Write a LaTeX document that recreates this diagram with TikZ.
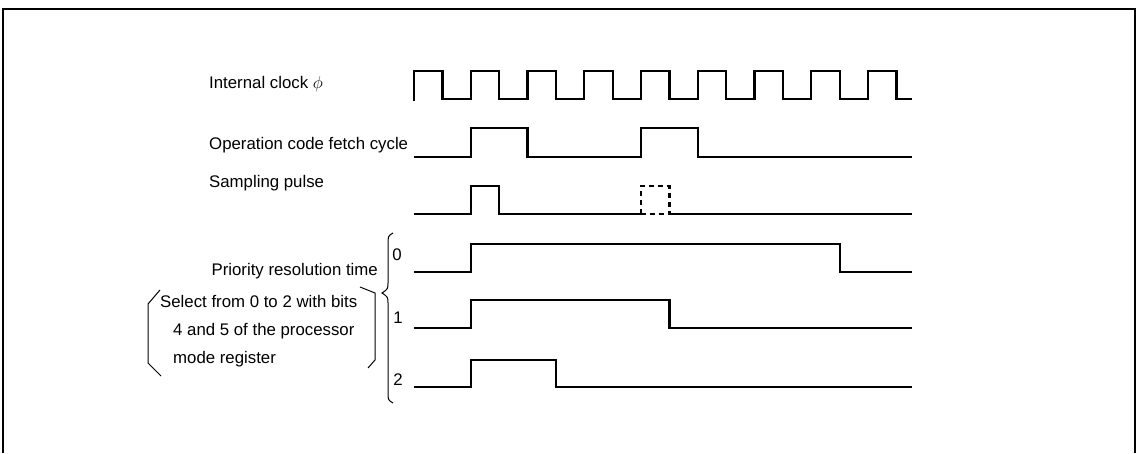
\documentclass[tikz,border=0pt]{standalone}
\usepackage{fontspec}
\setmainfont{Liberation Sans}
\usetikzlibrary{positioning}

\begin{document}
\begin{tikzpicture}[
  x=1pt, y=-1pt,
  font=\fontsize{16.8}{20}\selectfont,
  wave/.style={line width=2.2pt, line join=miter},
  dashwave/.style={wave, dash pattern=on 5pt off 4pt},
  sig/.style={anchor=west, inner sep=0pt},
  brack/.style={line width=1pt}
]

\useasboundingbox (0,0) rectangle (1139,453);
\draw[line width=1.8pt] (3,453) -- (3,9) -- (1135,9) -- (1135,453);

% signal names
\node[sig] (clk) at (209,84) {Internal clock $\phi$};
\node[sig] (fetch) at (209,145) {Operation code fetch cycle};
\node[sig] (samp) at (209,183) {Sampling pulse};
\node[sig, anchor=east] (prio) at (378,271) {Priority resolution time};
\node[sig] (sel1) at (160,301) {Select from 0 to 2 with bits};
\node[sig] (sel2) at (173,331) {4 and 5 of the processor};
\node[sig] (sel3) at (173,359) {mode register};
\node (p0) at (397,255) {0};
\node (p1) at (398,318) {1};
\node (p2) at (398,380) {2};

% brackets
\draw[brack] (160,290) -- (148,304) -- (148,363) -- (161,376);
\draw[brack] (360,287) -- (375,293) -- (375,360) -- (368,368);
\draw[brack] (393,233) .. controls (388,236) .. (388,245) -- (388,282)
  .. controls (388,289) .. (382,293) .. controls (388,297) .. (388,304)
  -- (388,392) .. controls (388,400) .. (393,403);

% internal clock
\draw[wave] (414,101) -- (414,71)
  foreach \k in {1,...,8} { -| ++(28.4,28) -| ++(28.35,-28) }
  -| ++(28.4,28) -- (912,99);

% operation code fetch cycle
\draw[wave] (414,157) -- (470.75,157) |- (527.5,128) |- (641,157)
  |- (697.75,128) |- (912,157);

% sampling pulse
\draw[wave] (414,214) -- (470.75,214) |- (499.1,186) |- (641,214);
\draw[dashwave] (641,214) rectangle (669.4,186);
\draw[wave] (669.4,214) -- (912,214);

% priority resolution time 0, 1, 2
\draw[wave] (414,272) -- (470.75,272) |- (839.6,244) |- (912,272);
\draw[wave] (414,328) -- (470.75,328) |- (669.4,300) |- (912,328);
\draw[wave] (414,387) -- (470.75,387) |- (555.9,360) |- (912,387);

\end{tikzpicture}
\end{document}
